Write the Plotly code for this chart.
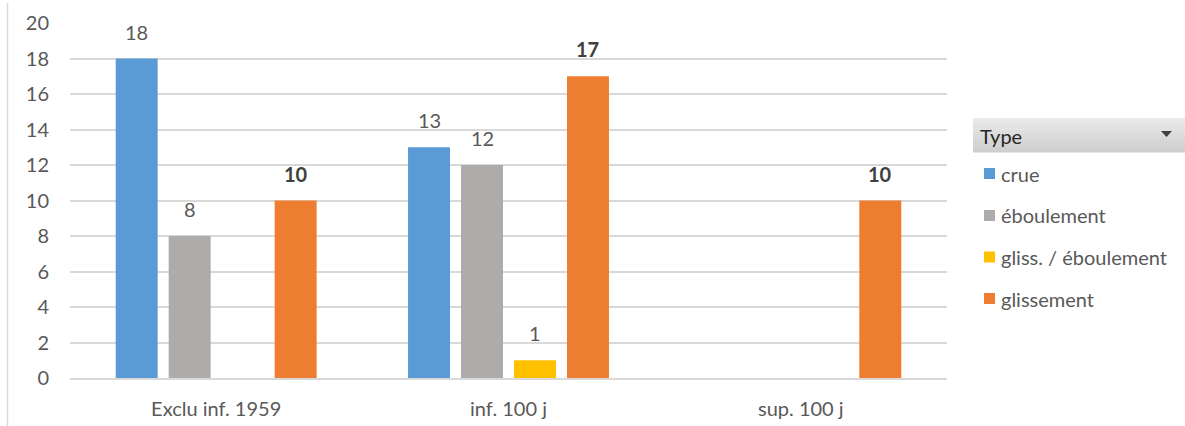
import plotly.graph_objects as go

# Counts per event type and period
categories = ["Exclu inf. 1959", "inf. 100 j", "sup. 100 j"]
series_names = ["crue", "éboulement", "gliss. / éboulement", "glissement"]
crue = [18, 13, None]
eboulement = [8, 12, None]
gliss_eboulement = [None, 1, None]
glissement = [10, 17, 10]
y_ticks = [0, 2, 4, 6, 8, 10, 12, 14, 16, 18, 20]

series_values = [crue, eboulement, gliss_eboulement, glissement]
colors = ["#5B9BD5", "#AEABAB", "#FFC000", "#ED7D31"]
bold_labels = [False, False, False, True]

W, H = 1185, 426
L, R, T, B = 70, 238, 23, 48
PW, PH = W - L - R, H - T - B


def px_x(px):
    return (px - L) / PW


def px_y(py):
    return (H - B - py) / PH


FONT = "Lato, 'Open Sans', sans-serif"
TXT = "#595959"
FS = 20

fig = go.Figure()
for name, vals, col in zip(series_names, series_values, colors):
    fig.add_trace(go.Bar(
        name=name, x=categories, y=vals, marker_color=col,
        marker_line_width=0, showlegend=False, hoverinfo="x+y+name",
    ))

# value labels above each bar
annotations = []
n = len(series_names)
for si, (vals, bold) in enumerate(zip(series_values, bold_labels)):
    for ci, v in enumerate(vals):
        if v is None:
            continue
        # offset of the bar within its group, in category units
        group_w = 1 - 0.275
        slot = group_w / n
        xoff = -group_w / 2 + slot * (si + 0.5)
        annotations.append(dict(
            x=ci + xoff, y=v, xref="x", yref="y",
            text=f"<b>{v}</b>" if bold else str(v),
            showarrow=False, yanchor="bottom", yshift=13,
            font=dict(family=FONT, size=FS, color="#404040" if bold else TXT),
        ))

shapes = []
# left border line of the chart frame
shapes.append(dict(type="line", xref="paper", yref="paper",
                   x0=px_x(7.5), x1=px_x(7.5), y0=px_y(3), y1=px_y(426),
                   line=dict(color="#D9D9D9", width=1.5)))

# legend header with a soft vertical gradient
hx0, hx1, hy0, hy1 = 973, 1185, 118, 152
steps = 12
for k in range(steps):
    g = int(234 - (234 - 206) * k / (steps - 1))
    ya = hy0 + (hy1 - hy0) * k / steps
    yb = hy0 + (hy1 - hy0) * (k + 1) / steps
    shapes.append(dict(type="rect", xref="paper", yref="paper",
                       x0=px_x(hx0), x1=px_x(hx1), y0=px_y(ya), y1=px_y(yb + 0.5),
                       fillcolor=f"rgb({g},{g},{g})", line_width=0))
# dropdown arrow
ax0, ax1, ay0, ay1 = 1161, 1172, 131, 137
shapes.append(dict(type="path", xref="paper", yref="paper",
                   path=f"M {px_x(ax0)},{px_y(ay0)} L {px_x(ax1)},{px_y(ay0)} "
                        f"L {px_x((ax0 + ax1) / 2)},{px_y(ay1)} Z",
                   fillcolor="#404040", line_width=0))
annotations.append(dict(x=px_x(978), y=px_y(135.5), xref="paper", yref="paper",
                        text="Type", showarrow=False, xanchor="left", yanchor="middle",
                        font=dict(family=FONT, size=FS, color="#262626")))

# legend entries
item_y = [173.5, 215.5, 257, 298.5]
for name, col, cy in zip(series_names, colors, item_y):
    shapes.append(dict(type="rect", xref="paper", yref="paper",
                       x0=px_x(984), x1=px_x(995), y0=px_y(cy - 5.5), y1=px_y(cy + 5.5),
                       fillcolor=col, line_width=0))
    annotations.append(dict(x=px_x(999), y=px_y(cy), xref="paper", yref="paper",
                            text=name, showarrow=False, xanchor="left", yanchor="middle",
                            font=dict(family=FONT, size=FS, color=TXT)))

fig.update_layout(
    width=W, height=H,
    margin=dict(l=L, r=R, t=T, b=B, pad=0, autoexpand=False),
    paper_bgcolor="white", plot_bgcolor="white",
    barmode="group", bargap=0.275, bargroupgap=0.208,
    font=dict(family=FONT, size=FS, color=TXT),
    shapes=shapes, annotations=annotations,
)
fig.update_xaxes(
    showgrid=False, showline=True, linecolor="#D9D9D9", linewidth=1.5,
    ticks="", ticklabelstandoff=12, automargin=False,
    tickfont=dict(family=FONT, size=FS, color=TXT), fixedrange=True,
)
fig.update_yaxes(
    range=[0, 20], tickvals=y_ticks, showgrid=True, gridcolor="#D9D9D9", gridwidth=1.5,
    zeroline=False, showline=False, ticks="", ticklabelstandoff=20, automargin=False,
    tickfont=dict(family=FONT, size=FS, color=TXT), fixedrange=True,
)

fig.write_html("out.html")
